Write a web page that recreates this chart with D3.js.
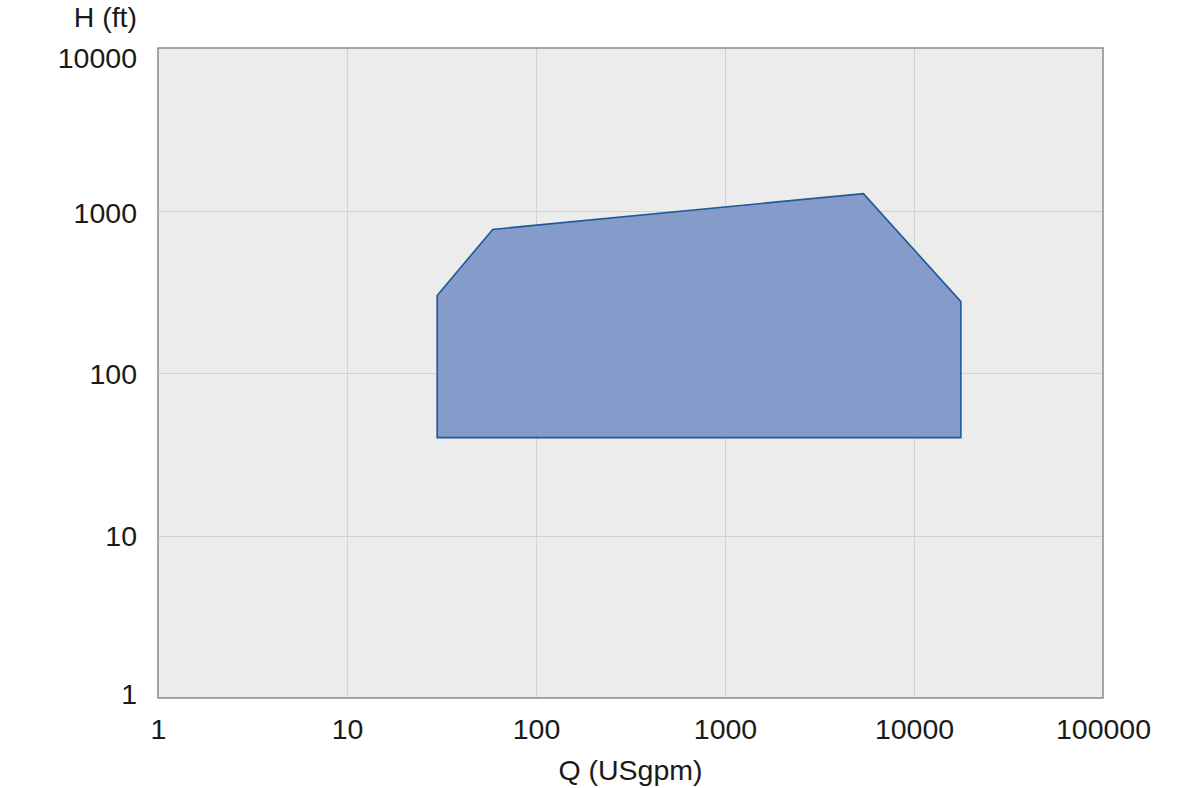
<!DOCTYPE html>
<html><head><meta charset="utf-8">
<script src="https://cdn.jsdelivr.net/npm/d3@7"></script>
<style>
html,body{margin:0;padding:0;background:#fff;}
text{font-family:"Liberation Sans",Arial,Helvetica,sans-serif;fill:#1a1a1a;}
</style></head>
<body><svg id="c" width="1200" height="788"></svg>
<script>
const flowQ = [30, 59, 5400, 17700, 17700, 30];
const headH = [300, 765, 1270, 275, 40, 40];
const xTicks = [1, 10, 100, 1000, 10000, 100000];
const yTicks = [1, 10, 100, 1000, 10000];
const xTitle = "Q (USgpm)";
const yTitle = "H (ft)";

const svg = d3.select("#c");
const L = 158, R = 1103, T = 48, B = 698;
const x = d3.scaleLog().domain([1, 100000]).range([L, R]);
const y = d3.scaleLog().domain([1, 10000]).range([B, T]);

svg.append("rect").attr("x", L).attr("y", T).attr("width", R - L).attr("height", B - T).attr("fill", "#ececec");

const grid = svg.append("g").attr("stroke", "#d2d2d2").attr("stroke-width", 1);
xTicks.slice(1, -1).forEach(v => grid.append("line").attr("x1", Math.round(x(v)) + 0.5).attr("x2", Math.round(x(v)) + 0.5).attr("y1", T).attr("y2", B));
yTicks.slice(1, -1).forEach(v => grid.append("line").attr("y1", Math.round(y(v)) + 0.5).attr("y2", Math.round(y(v)) + 0.5).attr("x1", L).attr("x2", R));

const pts = flowQ.map((q, i) => [x(q), y(headH[i])]);
svg.append("path").attr("d", d3.line()(pts) + "Z")
  .attr("fill", "#7f97c8").attr("fill-opacity", 0.95)
  .attr("stroke", "#1d5a96").attr("stroke-width", 1.6).attr("stroke-linejoin", "miter");

svg.append("rect").attr("x", L).attr("y", T).attr("width", R - L).attr("height", B - T)
  .attr("fill", "none").attr("stroke", "#8a8a8a").attr("stroke-width", 1.5);

const FS = 28.5;
const xAxis = d3.axisBottom(x).tickValues(xTicks).tickFormat(d3.format("d")).tickSize(0).tickPadding(21);
const gx = svg.append("g").attr("transform", `translate(0,${B})`).call(xAxis);
gx.select(".domain").remove();
gx.selectAll("text").attr("font-size", FS).attr("fill", "#1a1a1a").attr("dy", "0.71em");

const yAxis = d3.axisLeft(y).tickValues(yTicks).tickFormat(d3.format("d")).tickSize(0).tickPadding(21);
const gy = svg.append("g").attr("transform", `translate(${L},0)`).call(yAxis);
gy.select(".domain").remove();
const yOff = {1: -5, 10: 0, 100: 0, 1000: 1.5, 10000: 9};
gy.selectAll("text").attr("font-size", FS).attr("fill", "#1a1a1a").attr("dy", d => (yOff[d] + 10) + "px");

svg.append("text").attr("x", (L + R) / 2).attr("y", 780).attr("text-anchor", "middle").attr("font-size", FS).text(xTitle);
svg.append("text").attr("x", 137).attr("y", 27).attr("text-anchor", "end").attr("font-size", FS).text(yTitle);
</script></body></html>
